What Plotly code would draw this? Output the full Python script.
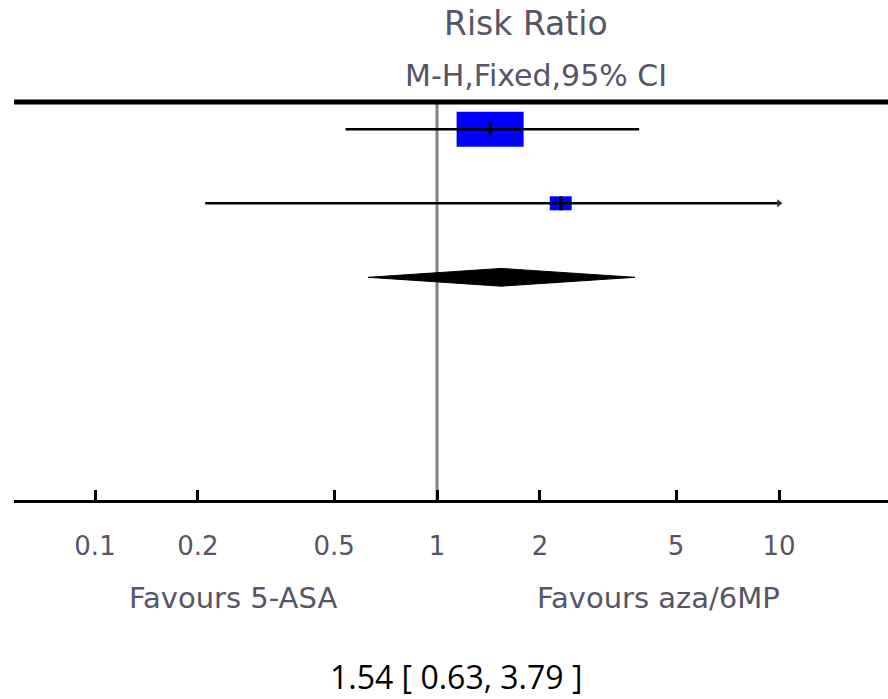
import plotly.graph_objects as go

# ---------------- data ----------------
study_rows = [0, 1]
study_rr = [1.43, 2.30]
study_ci_low = [0.54, 0.21]
study_ci_high = [3.90, 25.2]
pooled_row = 2
pooled_rr = 1.54
pooled_low = 0.63
pooled_high = 3.79
tick_vals = [0.1, 0.2, 0.5, 1, 2, 5, 10]
tick_text = ["0.1", "0.2", "0.5", "1", "2", "5", "10"]
axis_max = 10
header_1 = "Risk Ratio"
header_2 = "M-H,Fixed,95% CI"
favours_left = "Favours 5-ASA"
favours_right = "Favours aza/6MP"
pooled_label = f"{pooled_rr:.2f} [ {pooled_low:.2f}, {pooled_high:.2f} ]"

# ---------------- style ----------------
box_w = [67, 22]   # px
box_h = [35, 14]   # px
diamond_half_h = 0.12
txt_color = "#555566"
txt_font = "DejaVu Sans"

L, T, B = 14, 102, 199
W, H = 888, 699
pw = W - L
ph = H - T - B
x_range = [(14 - 437) / 342, (888 - 437) / 342]
px_per_decade = pw / (x_range[1] - x_range[0])

fig = go.Figure()

shapes = []
for i in range(len(study_rows)):
    lo = study_ci_low[i]
    hi = min(study_ci_high[i], axis_max)
    fig.add_trace(go.Scatter(x=[lo, hi], y=[study_rows[i]] * 2, mode="lines",
                             line=dict(color="black", width=2.5),
                             hoverinfo="skip", showlegend=False))
    if study_ci_high[i] > axis_max:
        fig.add_trace(go.Scatter(x=[hi], y=[study_rows[i]], mode="markers",
                                 marker=dict(symbol="triangle-right", size=7, color="#333"),
                                 hoverinfo="skip", showlegend=False))
    f = 10 ** (box_w[i] / 2 / px_per_decade)
    shapes.append(dict(type="rect", xref="x", yref="y", ysizemode="pixel",
                       yanchor=study_rows[i],
                       x0=study_rr[i] / f, x1=study_rr[i] * f,
                       y0=-box_h[i] / 2, y1=box_h[i] / 2,
                       fillcolor="#0000ff", line=dict(width=0), layer="below"))

fig.add_trace(go.Scatter(x=study_rr, y=study_rows, mode="markers",
                         marker=dict(symbol="line-ns", size=10,
                                     line=dict(color="black", width=3)),
                         hoverinfo="skip", showlegend=False))

fig.add_trace(go.Scatter(
    x=[pooled_low, pooled_rr, pooled_high, pooled_rr, pooled_low],
    y=[pooled_row, pooled_row - diamond_half_h, pooled_row, pooled_row + diamond_half_h, pooled_row],
    mode="lines", fill="toself", fillcolor="black", line=dict(color="black", width=1),
    hoverinfo="skip", showlegend=False))

# vertical line of no effect
shapes.append(dict(type="line", xref="x", yref="paper", x0=1, x1=1, y0=0, y1=1,
                   line=dict(color="#808080", width=3), layer="below"))
# top rule
shapes.append(dict(type="line", xref="paper", yref="paper", x0=0, x1=1, y0=1, y1=1,
                   line=dict(color="black", width=5)))


def px_x(px):
    return (px - L) / pw


def px_y(py):
    return (H - B - py) / ph


def ann(text, px, py, size, color=txt_color, family=txt_font):
    return dict(text=text, x=px_x(px), y=px_y(py), xref="paper", yref="paper",
                xanchor="center", yanchor="middle", showarrow=False,
                font=dict(family=family, size=size, color=color))


annotations = [
    ann(header_1, 526, 24, 33),
    ann(header_2, 536, 75, 30),
    ann(favours_left, 233, 598, 29),
    ann(favours_right, 658, 598, 29),
    ann(pooled_label, 456, 676, 32, color="black", family="Open Sans"),
]

fig.update_layout(
    width=W, height=H,
    margin=dict(l=L, r=0, t=T, b=B, pad=0),
    paper_bgcolor="white", plot_bgcolor="white",
    shapes=shapes, annotations=annotations,
    xaxis=dict(type="log", range=x_range,
               tickvals=tick_vals, ticktext=tick_text,
               ticks="inside", ticklen=10, tickwidth=3, tickcolor="black",
               showline=True, linewidth=3, linecolor="black",
               showgrid=False, zeroline=False, fixedrange=True,
               ticklabelstandoff=21,
               tickfont=dict(family=txt_font, size=26, color=txt_color)),
    yaxis=dict(range=[(500 - 129.3) / 74, (102 - 129.3) / 74], visible=False,
               showgrid=False, zeroline=False, fixedrange=True),
    showlegend=False,
)

fig.write_html("out.html", config={"displayModeBar": False},
               post_script="document.body.style.margin='0px';document.body.style.padding='0px';")
